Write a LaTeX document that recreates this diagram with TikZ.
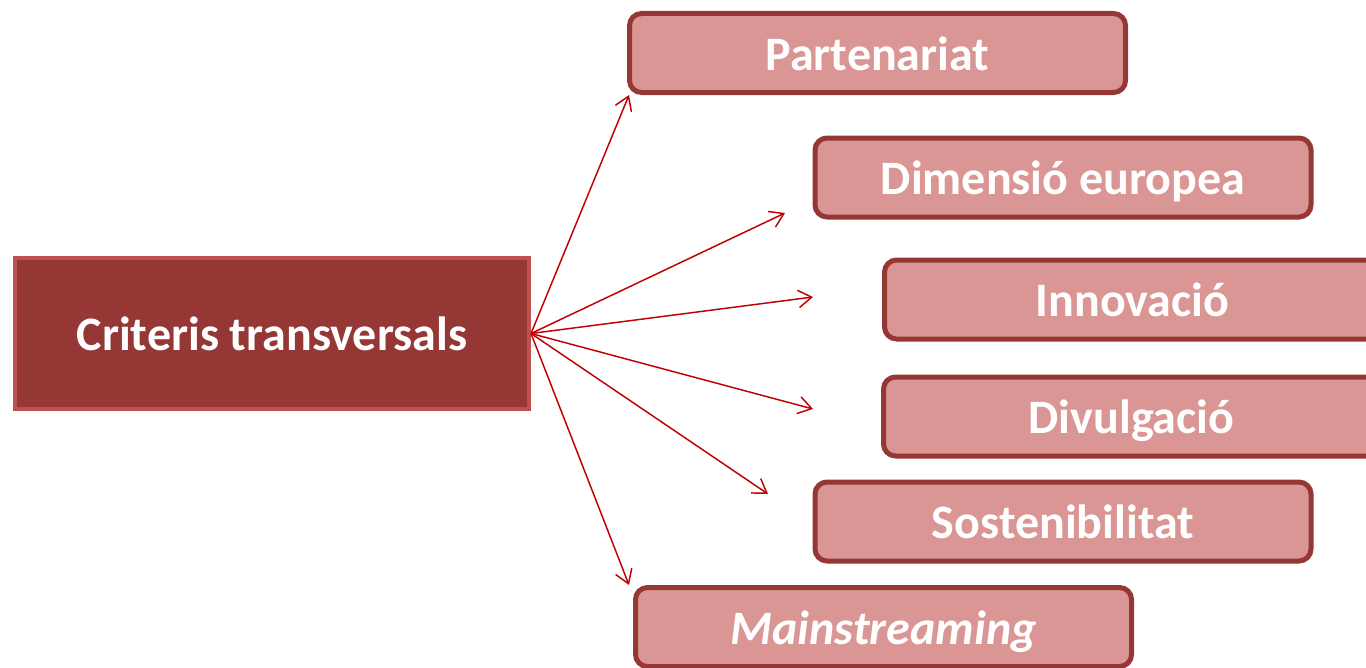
\documentclass[tikz,border=0pt]{standalone}
\usepackage{fontspec}
\setmainfont{Carlito}
\usetikzlibrary{arrows.meta,positioning}
\definecolor{darkred}{HTML}{953735}
\definecolor{lightred}{HTML}{D99694}
\definecolor{edgered}{HTML}{C0504D}
\definecolor{arrowred}{HTML}{C00000}

\begin{document}
\begin{tikzpicture}[x=0.75pt, y=-0.75pt,
    criterion/.style={draw=darkred, fill=lightred, line width=3.75pt, rounded corners=9pt,
        minimum width=372pt, minimum height=59.25pt, inner sep=0pt, text=white,
        text height=25.5pt, text depth=0pt, font=\fontsize{36}{42}\selectfont\bfseries},
    link/.style={draw=arrowred, line width=1.1pt, -{Straight Barb[length=10pt, width=13pt]}}]
    \useasboundingbox (0,0) rectangle (1366,667);

% Main box
\node[draw=edgered, fill=darkred, line width=3pt, minimum width=385.5pt, minimum height=113.25pt,
    inner sep=0pt, text=white, text height=25.5pt, text depth=0pt,
    font=\fontsize{36}{42}\selectfont\bfseries] (core) at (272,333.5) {Criteris transversals};

% Criteria
\node[criterion] (part) at (877.5,53) {Partenariat};
\node[criterion] (dim) at (1063,177.5) {Dimensió europea};
\node[criterion] (inn) at (1132.5,299.5) {Innovació};
\node[criterion] (div) at (1131.5,416.5) {Divulgació};
\node[criterion] (sost) at (1063,521.5) {Sostenibilitat};
\node[criterion] (main) at (883.5,627) {\itshape Mainstreaming};

% Arrow ends
\coordinate (to-part) at (629,95);
\coordinate (to-dim) at (785,213);
\coordinate (to-inn) at (813,297);
\coordinate (to-div) at (813,409);
\coordinate (to-sost) at (768,494);
\coordinate (to-main) at (629,585);

\foreach \t in {part,dim,inn,div,sost,main} {
    \draw[link] (core.east) -- (to-\t);
}
\end{tikzpicture}
\end{document}
